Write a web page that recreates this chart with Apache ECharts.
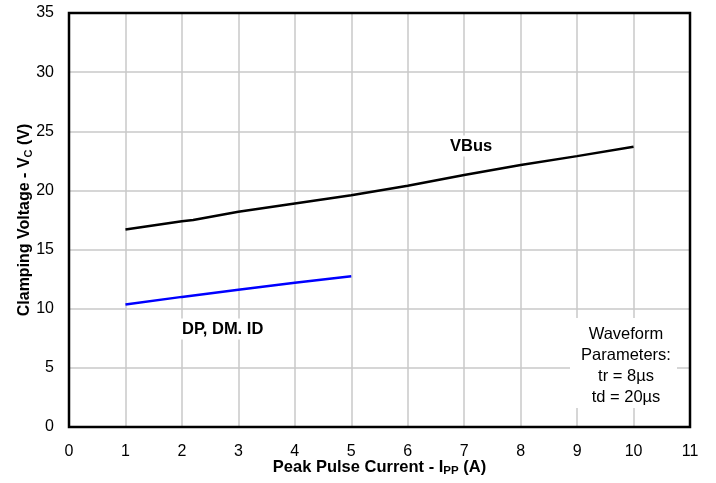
<!DOCTYPE html>
<html><head><meta charset="utf-8">
<script src="https://cdn.jsdelivr.net/npm/echarts@6/dist/echarts.min.js"></script>
<style>html,body{margin:0;padding:0;background:#fff}#c{width:716px;height:483px}</style>
</head><body><div id="c"></div>
<script>
const vbusX = [1, 2, 2.2, 3, 4, 5, 6, 7, 8, 9, 10];
const vbusY = [16.7, 17.4, 17.5, 18.2, 18.9, 19.6, 20.4, 21.3, 22.15, 22.9, 23.7];
const dpX = [1, 2, 3, 4, 5];
const dpY = [10.35, 11.0, 11.6, 12.2, 12.75];
const xTicks = [0,1,2,3,4,5,6,7,8,9,10,11];
const yTicks = [0,5,10,15,20,25,30,35];

const chart = echarts.init(document.getElementById('c'), null, {renderer:'canvas'});
const font = 'Liberation Sans, Arial, sans-serif';
const L = 69, R = 26, T = 13, B = 56;
chart.setOption({
  animation:false,
  backgroundColor:'#fff',
  textStyle:{fontFamily:font},
  grid:{left:L,right:R,top:T,bottom:B,show:false,containLabel:false,outerBoundsMode:'none'},
  xAxis:{type:'value',min:xTicks[0],max:xTicks[xTicks.length-1],interval:1,
    axisLine:{show:false},axisTick:{show:false},
    axisLabel:{fontSize:16,color:'#000',margin:17,fontFamily:font},
    splitLine:{show:true,lineStyle:{color:'#c8c8c8',width:1.5}},
    name:'{a|Peak Pulse Current - I}{s|PP}{a| (A)}',nameLocation:'middle',nameGap:31,nameMoveOverlap:false,
    nameTextStyle:{rich:{a:{fontSize:16.5,fontWeight:'bold',color:'#000',fontFamily:font},s:{fontSize:11.5,fontWeight:'bold',color:'#000',fontFamily:font,padding:[7,0,0,0]}}}},
  yAxis:{type:'value',min:yTicks[0],max:yTicks[yTicks.length-1],interval:5,
    axisLine:{show:false},axisTick:{show:false},
    axisLabel:{fontSize:16,color:'#000',margin:15,fontFamily:font},
    splitLine:{show:true,lineStyle:{color:'#c8c8c8',width:1.5}},
    name:'{a|Clamping Voltage - V}{s|C}{a| (V)}',nameLocation:'middle',nameGap:35,nameMoveOverlap:false,
    nameTextStyle:{rich:{a:{fontSize:16,fontWeight:'bold',color:'#000',fontFamily:font},s:{fontSize:11,fontWeight:'bold',color:'#000',fontFamily:font,padding:[7,0,0,0]}}}},
  series:[
    {type:'line',data:vbusX.map((x,i)=>[x,vbusY[i]]),showSymbol:false,lineStyle:{color:'#000',width:2.5},z:5},
    {type:'line',data:dpX.map((x,i)=>[x,dpY[i]]),showSymbol:false,lineStyle:{color:'#0000ff',width:2.5},z:5}
  ],
  graphic:[
    {type:'rect',z:20,shape:{x:L,y:T,width:716-L-R,height:483-T-B},style:{fill:'none',stroke:'#000',lineWidth:2.5}},
    {type:'text',z:10,style:{x:446,y:146,textVerticalAlign:'middle',text:'VBus',font:'bold 16.5px '+font,fill:'#000',backgroundColor:'#fff',padding:[2,4]}},
    {type:'text',z:10,style:{x:178,y:329,textVerticalAlign:'middle',text:'DP, DM. ID',font:'bold 16.5px '+font,fill:'#000',backgroundColor:'#fff',padding:[2,4]}},
    {type:'rect',z:10,shape:{x:570,y:318,width:107,height:90},style:{fill:'#fff'}},
    {type:'text',z:11,style:{x:626,y:324,textAlign:'center',text:'Waveform\nParameters:\ntr = 8µs\ntd = 20µs',font:'16.5px '+font,fill:'#000',lineHeight:21}}
  ]
});
</script></body></html>
